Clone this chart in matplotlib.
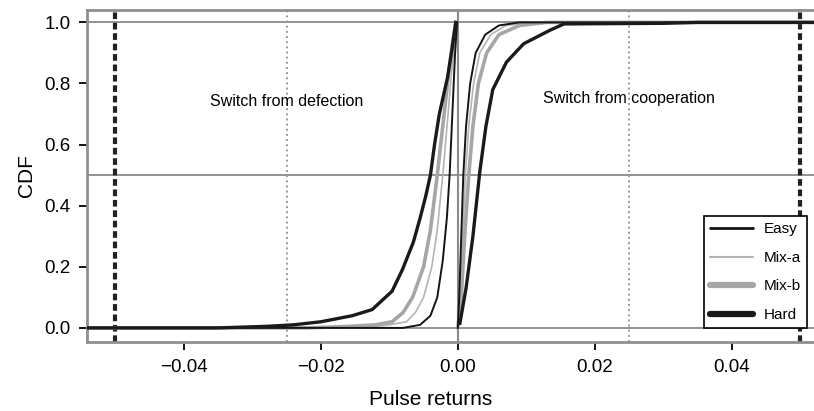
import matplotlib

matplotlib.use("Agg")
import matplotlib.pyplot as plt

plt.rcParams["font.family"] = ["Liberation Sans", "DejaVu Sans"]

# CDF of pulse returns: left branch = switch from defection, right = switch from cooperation
hard_def_x = [-0.055, -0.035, -0.028, -0.024, -0.020, -0.0154, -0.0125, -0.0096, -0.0081,
              -0.0065, -0.0055, -0.0047, -0.0040, -0.0034, -0.0027, -0.0015, -0.0008, -0.0003]
hard_def_y = [0.0, 0.0, 0.005, 0.01, 0.02, 0.04, 0.06, 0.12, 0.19,
              0.28, 0.36, 0.43, 0.50, 0.60, 0.70, 0.82, 0.92, 1.0]
mixb_def_x = [-0.055, -0.022, -0.016, -0.012, -0.0096, -0.0080, -0.0066, -0.0050, -0.0040,
              -0.0030, -0.0022, -0.0014, -0.0008, -0.0003]
mixb_def_y = [0.0, 0.0, 0.005, 0.01, 0.02, 0.05, 0.10, 0.20, 0.32, 0.50, 0.66, 0.82, 0.93, 1.0]
mixa_def_x = [-0.055, -0.014, -0.010, -0.0075, -0.0062, -0.0050, -0.0038, -0.0030, -0.0022,
              -0.0015, -0.0009, -0.0004, -0.0001]
mixa_def_y = [0.0, 0.0, 0.01, 0.02, 0.05, 0.10, 0.20, 0.32, 0.50, 0.68, 0.84, 0.95, 1.0]
easy_def_x = [-0.055, -0.008, -0.0055, -0.0040, -0.0030, -0.0022, -0.0016, -0.0012,
              -0.0008, -0.0004, -0.0001]
easy_def_y = [0.0, 0.0, 0.01, 0.04, 0.10, 0.22, 0.36, 0.50, 0.70, 0.90, 1.0]

hard_coop_x = [0.0003, 0.0012, 0.0022, 0.0032, 0.0041, 0.0051, 0.0071, 0.0096, 0.0135,
               0.0155, 0.030, 0.035, 0.055]
hard_coop_y = [0.015, 0.13, 0.30, 0.51, 0.66, 0.78, 0.87, 0.93, 0.975, 0.995, 0.997, 1.0, 1.0]
mixb_coop_x = [0.0, 0.0005, 0.0010, 0.0016, 0.0022, 0.0030, 0.0042, 0.0060, 0.0090, 0.0130, 0.055]
mixa_coop_x = [0.0, 0.0003, 0.0007, 0.0011, 0.0016, 0.0023, 0.0032, 0.0048, 0.0070, 0.0110, 0.055]
easy_coop_x = [0.0, 0.0002, 0.0005, 0.0008, 0.0012, 0.0018, 0.0026, 0.0040, 0.0060, 0.0090, 0.055]
coop_y = [0.0, 0.10, 0.30, 0.50, 0.66, 0.80, 0.90, 0.96, 0.99, 1.0, 1.0]

series = ["Easy", "Mix-a", "Mix-b", "Hard"]
xticks = [-0.04, -0.02, 0.0, 0.02, 0.04]
xticklabels = ["\u22120.04", "\u22120.02", "0.00", "0.02", "0.04"]
yticks = [0.0, 0.2, 0.4, 0.6, 0.8, 1.0]

fig = plt.figure(figsize=(8.14, 4.11), dpi=100)
ax = fig.add_axes([0.107, 0.168, 0.905, 0.808])

for y in (0.0, 0.5, 1.0):
    ax.axhline(y, color="#8a8a8a", lw=1.3, zorder=1)
ax.axvline(0.0, color="#8a8a8a", lw=1.5, zorder=1)
for x in (-0.025, 0.025):
    ax.axvline(x, color="#9a9a9a", lw=1.4, ls=":", zorder=1)
for x in (-0.05, 0.05):
    ax.axvline(x, color="#222222", lw=3, dashes=(1.6, 0.9), zorder=1)

styles = {
    "Easy": dict(color="#151515", lw=1.4),
    "Mix-a": dict(color="#b4b4b4", lw=1.2),
    "Mix-b": dict(color="#a6a6a6", lw=2.6),
    "Hard": dict(color="#1a1a1a", lw=2.4),
}
branches = {
    "Easy": [(easy_def_x, easy_def_y), (easy_coop_x, coop_y)],
    "Mix-a": [(mixa_def_x, mixa_def_y), (mixa_coop_x, coop_y)],
    "Mix-b": [(mixb_def_x, mixb_def_y), (mixb_coop_x, coop_y)],
    "Hard": [(hard_def_x, hard_def_y), (hard_coop_x, hard_coop_y)],
}
for name in ["Mix-a", "Mix-b", "Easy", "Hard"]:
    for bx, by in branches[name]:
        ax.plot(bx, by, zorder=3, **styles[name])

# legend keys are drawn a bit heavier than the curves, as in the original
handles = []
for name in series:
    lw = {"Easy": 2.0, "Mix-a": 1.5, "Mix-b": 4.5, "Hard": 4.5}[name]
    handles.append(plt.Line2D([], [], color=styles[name]["color"], lw=lw, solid_capstyle="round"))

ax.text(-0.025, 0.74, "Switch from defection", ha="center", va="center", fontsize=11.5)
ax.text(0.025, 0.75, "Switch from cooperation", ha="center", va="center", fontsize=11.5)

ax.set_xlim(-0.0541, 0.0534)
ax.set_ylim(-0.046, 1.041)
ax.set_xticks(xticks)
ax.set_xticklabels(xticklabels)
ax.set_yticks(yticks)
ax.set_yticklabels([f"{v:.1f}" for v in yticks])
ax.tick_params(direction="out", length=6, width=1.3, labelsize=13.5, pad=6)
for sp in ax.spines.values():
    sp.set_color("#8f8f8f")
    sp.set_linewidth(2)
ax.set_xlabel("Pulse returns", fontsize=15)
ax.xaxis.set_label_coords(0.466, -0.145)
ax.set_ylabel("CDF", fontsize=15, labelpad=6)

leg = ax.legend(handles, series, loc="lower right", bbox_to_anchor=(0.977, 0.042),
                borderaxespad=0, fontsize=11, handlelength=2.8, labelspacing=0.95,
                handletextpad=0.7, fancybox=False, framealpha=1, edgecolor="black")
leg.get_frame().set_linewidth(1.2)

fig.savefig("out.png", dpi=100)
